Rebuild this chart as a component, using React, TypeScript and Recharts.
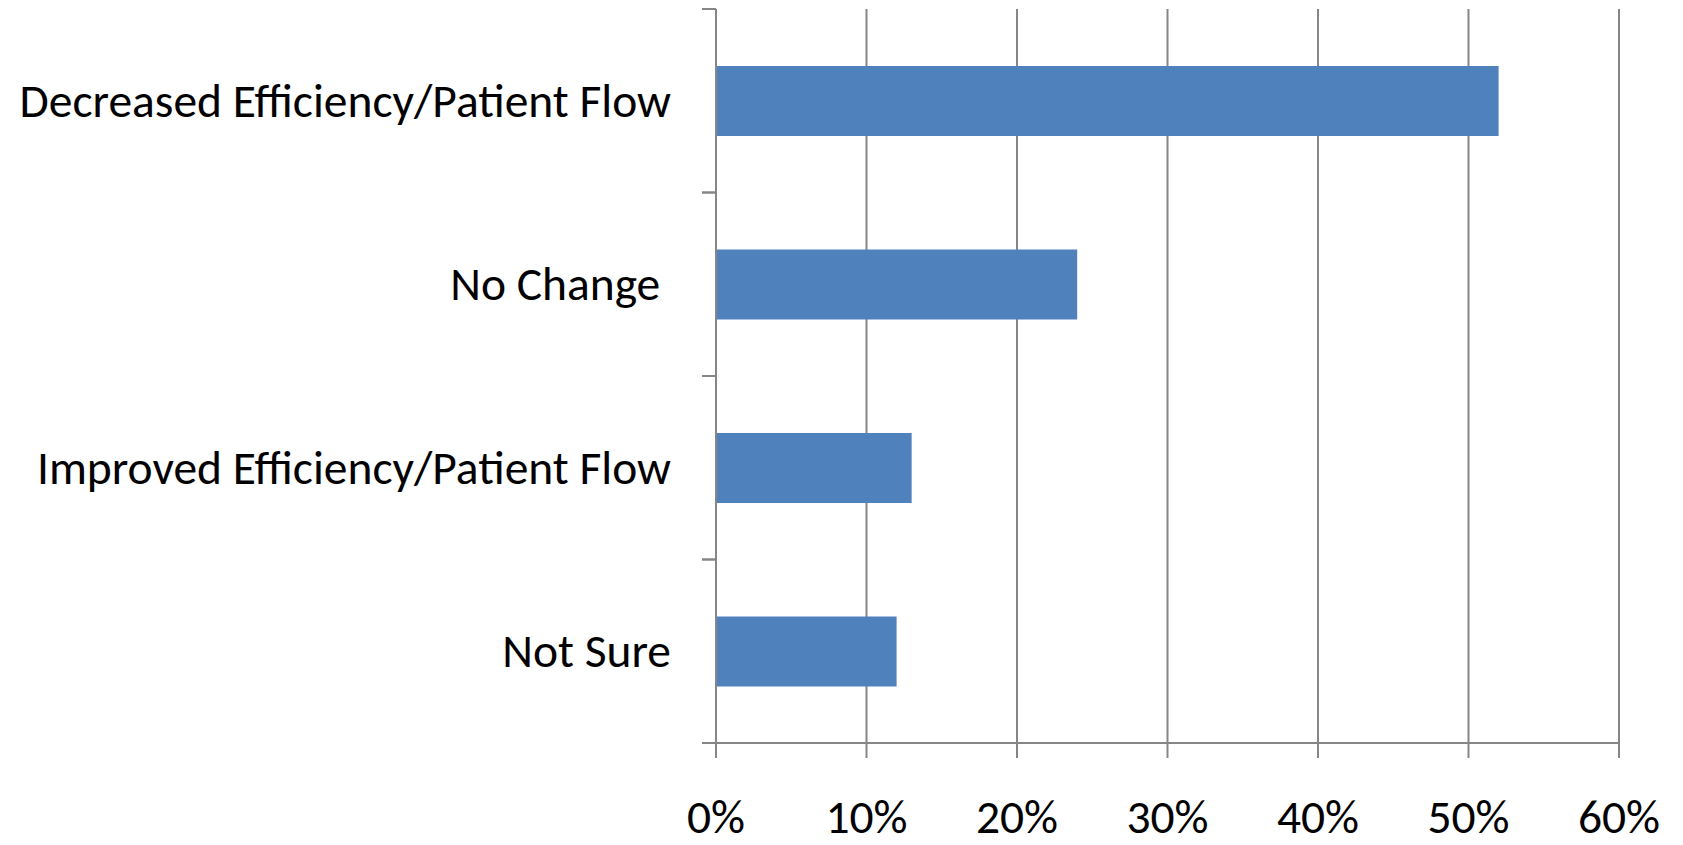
import React from "react";
import { BarChart, Bar, XAxis, YAxis, CartesianGrid } from "recharts";

const categories = [
  "Decreased Efficiency/Patient Flow",
  "No Change ",
  "Improved Efficiency/Patient Flow",
  "Not Sure",
];
const shares = [52, 24, 13, 12];
const xTicks = [0, 10, 20, 30, 40, 50, 60];

const FONT = "Carlito, Lato, 'Open Sans', sans-serif";
const FONT_SIZE = 47.5;
const AXIS_GRAY = "#868686";
const BAR_BLUE = "#4f81bd";

const rows = categories.map((name, i) => ({ name, value: shares[i] }));

// Excel-style category tick: label in the middle, tick marks on the band edges
function CategoryTick(props: any) {
  const { x, y, payload } = props;
  const half = payload?.offset ?? 0;
  return (
    <g>
      <line x1={x - 14} x2={x} y1={y - half} y2={y - half} stroke={AXIS_GRAY} strokeWidth={2} />
      <line x1={x - 14} x2={x} y1={y + half} y2={y + half} stroke={AXIS_GRAY} strokeWidth={2} />
      <text
        x={x - 45}
        y={y}
        textAnchor="end"
        dominantBaseline="central"
        fill="#000"
        fontSize={FONT_SIZE}
        fontFamily={FONT}
        style={{ whiteSpace: "pre" }}
      >
        {payload.value}
      </text>
    </g>
  );
}

export default function App() {
  return (
    <div style={{ width: 1675, height: 837, fontFamily: FONT }}>
      <BarChart
        width={1675}
        height={837}
        data={rows}
        layout="vertical"
        margin={{ top: 1, right: 64, bottom: 0, left: 0 }}
        barCategoryGap="31%"
      >
        <CartesianGrid horizontal={false} stroke={AXIS_GRAY} strokeWidth={2} />
        <XAxis
          type="number"
          domain={[0, 60]}
          ticks={xTicks}
          interval={0}
          height={102}
          tickSize={15}
          tickMargin={41}
          axisLine={{ stroke: AXIS_GRAY, strokeWidth: 2 }}
          tickLine={{ stroke: AXIS_GRAY, strokeWidth: 2 }}
          tick={{ fill: "#000", fontSize: FONT_SIZE, fontFamily: FONT }}
          tickFormatter={(v: number) => `${v}%`}
        />
        <YAxis
          type="category"
          dataKey="name"
          width={708}
          tickSize={0}
          tickMargin={0}
          tickLine={false}
          axisLine={{ stroke: AXIS_GRAY, strokeWidth: 2 }}
          tick={<CategoryTick />}
          interval={0}
        />
        <Bar dataKey="value" fill={BAR_BLUE} isAnimationActive={false} />
      </BarChart>
    </div>
  );
}
